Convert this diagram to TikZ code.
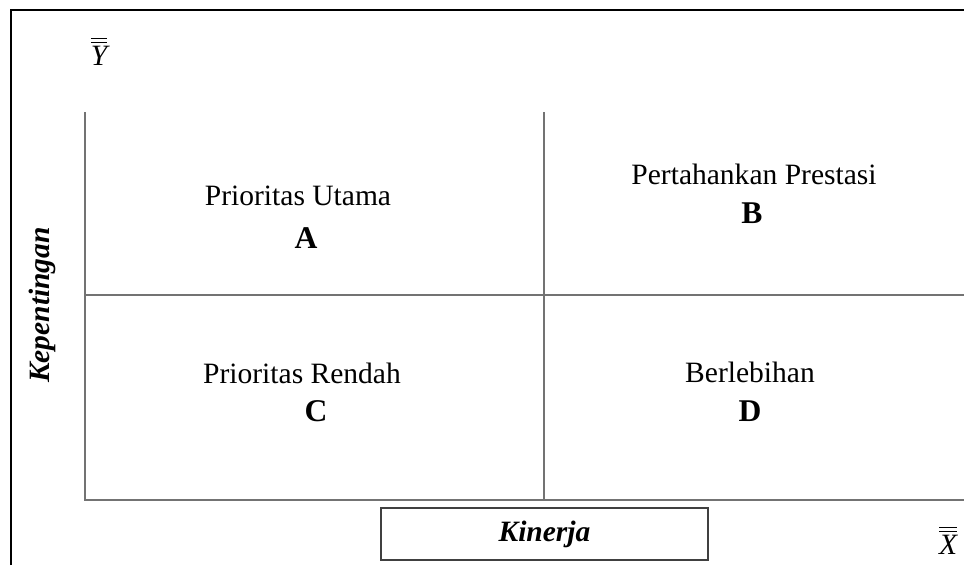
\documentclass[tikz,border=0pt]{standalone}
\usepackage{fontspec}
\setmainfont{Liberation Serif}
\begin{document}
\begin{tikzpicture}[x=0.015cm,y=-0.015cm]
			% Styles
			\tikzstyle{cadre}=[black,line width=1.2pt]
			\tikzstyle{axe}=[draw=black!55,line width=1.1pt]
			\tikzstyle{quadrant}=[font=\fontsize{12.6}{15}\selectfont,align=center]
			\tikzstyle{lettre}=[font=\fontsize{13.5}{15}\selectfont\bfseries]
			\tikzstyle{titre}=[font=\fontsize{12.6}{15}\selectfont\bfseries\itshape]
			\tikzstyle{boite}=[draw=black!75,line width=0.9pt,minimum width=4.9cm,minimum height=0.78cm]
			% Dimensions
			\def\Gauche{85}
			\def\Milieu{544}
			\def\Droite{964}
			\def\Haut{112}
			\def\Centre{295}
			\def\Bas{500}
			\useasboundingbox (0,0) rectangle (964,565);
			% Coordonnees
			\coordinate (cadreBas) at (11,565);
			\coordinate (cadreCoin) at (11,10);
			\coordinate (cadreDroite) at (964,10);
			\coordinate (O) at (\Gauche,\Bas);
			\coordinate (Yhaut) at (\Gauche,\Haut);
			\coordinate (Xfin) at (\Droite,\Bas);
			\coordinate (Mhaut) at (\Milieu,\Haut);
			\coordinate (Mbas) at (\Milieu,\Bas);
			\coordinate (Cgauche) at (\Gauche,\Centre);
			\coordinate (Cdroite) at (\Droite,\Centre);
			% Noeuds
			\node[quadrant] (txtA) at (298,196) {Prioritas Utama};
			\node[lettre] (A) at (306,238) {A};
			\node[quadrant] (txtB) at (754,174) {Pertahankan Prestasi};
			\node[lettre] (B) at (752,213) {B};
			\node[quadrant] (txtC) at (302,373) {Prioritas Rendah};
			\node[lettre] (C) at (316,411) {C};
			\node[quadrant] (txtD) at (750,372) {Berlebihan};
			\node[lettre] (D) at (750,411) {D};
			\node[titre,rotate=90] (kep) at (42,305) {Kepentingan};
			\node[boite,titre] (kin) at (544.5,534) {Kinerja};
			\node[quadrant] (ybar) at (99,51) {$\overline{\overline{\mbox{\itshape Y}}}$};
			\node[quadrant] (xbar) at (948,540) {$\overline{\overline{\mbox{\itshape X}}}$};
			% Traits
			\draw[cadre] (cadreBas)--(cadreCoin)--(cadreDroite);
			\draw[axe] (Yhaut)--(O)--(Xfin);
			\draw[axe] (Mhaut)--(Mbas);
			\draw[axe] (Cgauche)--(Cdroite);
		\end{tikzpicture}
\end{document}
